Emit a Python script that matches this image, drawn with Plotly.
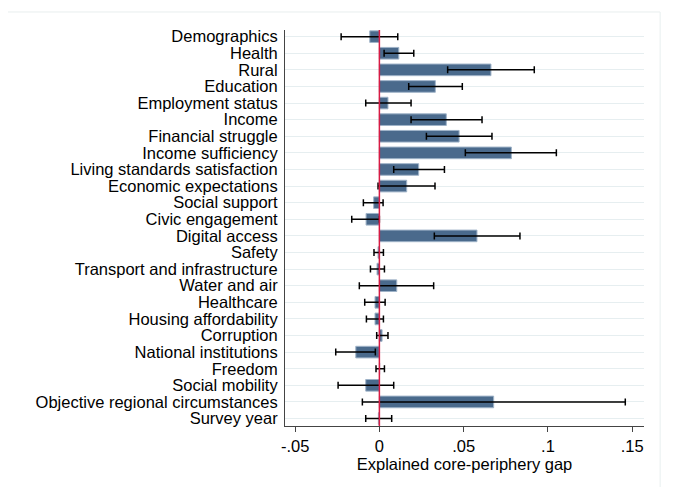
import plotly.graph_objects as go

# =========================
# DADOS
# =========================

categories = [
    "Demographics", "Health", "Rural", "Education", "Employment status",
    "Income", "Financial struggle", "Income sufficiency",
    "Living standards satisfaction", "Economic expectations",
    "Social support", "Civic engagement", "Digital access", "Safety",
    "Transport and infrastructure", "Water and air", "Healthcare",
    "Housing affordability", "Corruption", "National institutions",
    "Freedom", "Social mobility", "Objective regional circumstances",
    "Survey year",
]

estimate = [
    -0.0057, 0.0115, 0.0662, 0.0332, 0.0051, 0.0397, 0.0473, 0.0783,
    0.0233, 0.0162, -0.0034, -0.0079, 0.0579, -0.0008, -0.0014, 0.0103,
    -0.0026, -0.0026, 0.0016, -0.0140, 0.0002, -0.0081, 0.0678, -0.0006,
]

ci_low = [
    -0.0227, 0.0028, 0.0405, 0.0174, -0.0081, 0.0188, 0.0279, 0.0510,
    0.0085, -0.0008, -0.0095, -0.0164, 0.0326, -0.0032, -0.0053, -0.0119,
    -0.0087, -0.0077, -0.0016, -0.0259, -0.0020, -0.0245, -0.0101, -0.0081,
]

ci_high = [
    0.0109, 0.0204, 0.0919, 0.0492, 0.0188, 0.0609, 0.0668, 0.1050,
    0.0386, 0.0330, 0.0022, 0.0000, 0.0834, 0.0024, 0.0030, 0.0322,
    0.0034, 0.0024, 0.0051, -0.0024, 0.0030, 0.0085, 0.1459, 0.0073,
]

x_ticks = [-0.05, 0, 0.05, 0.1, 0.15]
x_tick_labels = ["-.05", "0", ".05", ".1", ".15"]

err_plus = [h - e for h, e in zip(ci_high, estimate)]
err_minus = [e - l for e, l in zip(estimate, ci_low)]

FONT = "Liberation Sans, Arial, sans-serif"

# =========================
# GRAFICO
# =========================

fig = go.Figure()

fig.add_trace(go.Bar(
    x=estimate,
    y=categories,
    orientation="h",
    width=0.7,
    marker=dict(color="#4a6a8c", line=dict(color="#9fb3c8", width=1)),
    error_x=dict(
        type="data",
        array=err_plus,
        arrayminus=err_minus,
        color="black",
        thickness=1.5,
        width=3.5,
    ),
    showlegend=False,
))

# linha vertical em zero
fig.add_shape(type="line", xref="x", yref="paper", x0=0, x1=0, y0=0, y1=1,
              line=dict(color="#d81b44", width=1.5), layer="above")

# moldura externa clara (topo e direita)
fig.add_shape(type="line", xref="paper", yref="paper",
              x0=-0.8, x1=1.045, y0=1.0455, y1=1.0455,
              line=dict(color="#e8efef", width=1))
fig.add_shape(type="line", xref="paper", yref="paper",
              x0=1.045, x1=1.045, y0=1.0455, y1=-0.16,
              line=dict(color="#e8efef", width=1))

# a pagina tem margem de 8px no body, por isso 673x479
fig.update_layout(
    width=673,
    height=479,
    margin=dict(l=277, r=37, t=22, b=61),
    paper_bgcolor="white",
    plot_bgcolor="white",
    font=dict(family=FONT, size=16.5, color="black"),
    bargap=0.3,
)

fig.update_xaxes(
    range=[-0.056, 0.157],
    tickvals=x_ticks,
    ticktext=x_tick_labels,
    ticks="outside",
    ticklen=5,
    tickcolor="#444",
    showline=True,
    linecolor="#444",
    linewidth=1,
    showgrid=False,
    zeroline=False,
    title=dict(text="Explained core-periphery gap", standoff=2,
               font=dict(size=16.5)),
    tickfont=dict(size=16.5),
)

fig.update_yaxes(
    type="category",
    categoryorder="array",
    categoryarray=categories,
    tickmode="array",
    tickvals=categories,
    ticktext=categories,
    range=[23.45, -0.4],
    showline=True,
    linecolor="#444",
    linewidth=1,
    showgrid=True,
    gridcolor="#e6eef0",
    gridwidth=1,
    ticks="",
    ticklabelstandoff=3,
    tickfont=dict(size=16.5),
    zeroline=False,
    automargin=False,
)

fig.write_html("out.html")
